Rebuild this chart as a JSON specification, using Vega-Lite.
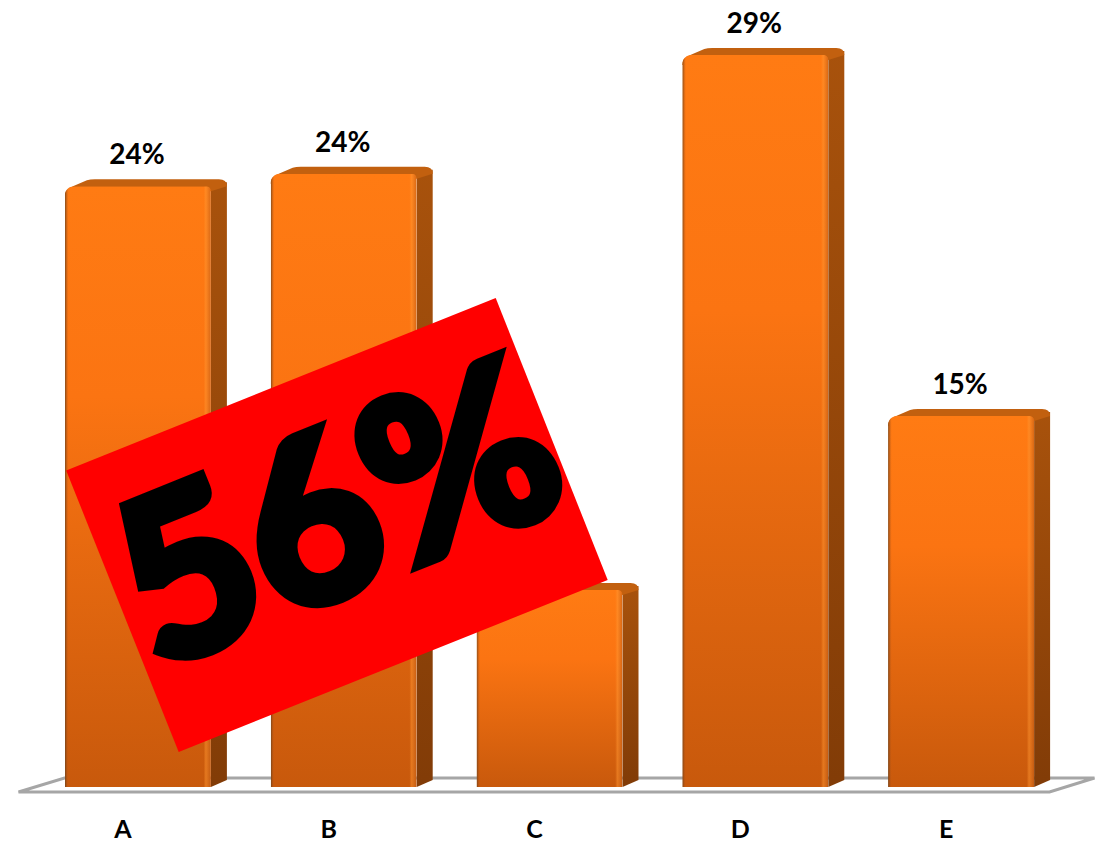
{
  "$schema": "https://vega.github.io/schema/vega-lite/v6.json",
  "autosize": {"type": "none"},
  "padding": {"left": 20, "top": 0, "right": 58, "bottom": 54},
  "width": 1029,
  "height": 787,
  "background": "white",
  "config": {"view": {"stroke": null}},
  "data": {"values": [
    {"category": "A", "share": 0.238},
    {"category": "B", "share": 0.243},
    {"category": "C", "share": 0.078},
    {"category": "D", "share": 0.29},
    {"category": "E", "share": 0.147}
  ]},
  "encoding": {
    "x": {
      "field": "category", "type": "nominal",
      "scale": {"type": "band", "paddingInner": 0, "paddingOuter": 0, "domain": ["A", "B", "C", "D", "E"]},
      "axis": {"title": null, "labelAngle": 0, "ticks": false, "domain": false, "labelPadding": 30, "labelFont": "Lato", "labelFontWeight": "bold", "labelFontSize": 25, "labelColor": "black"}
    },
    "y": {
      "field": "share", "type": "quantitative",
      "scale": {"domain": [0, 0.3118], "nice": false, "zero": false},
      "axis": null
    }
  },
  "layer": [
    {
      "description": "Floor plate under the columns",
      "data": {"values": [{"category": "C", "share": 0}]},
      "mark": {"type": "point", "filled": true, "opacity": 1, "size": 4, "clip": false,
        "shape": "M-516,5 L-470,-9 L560,-9 L515,5 Z",
        "fill": "white", "stroke": "#a6a6a6", "strokeWidth": 3}
    },
    {
      "description": "Right side face of each column",
      "mark": {"type": "bar", "width": 16, "xOffset": 96, "yOffset": -4, "y2Offset": -7,
        "fill": {"gradient": "linear", "x1": 0, "y1": 0, "x2": 0, "y2": 1,
          "stops": [{"offset": 0, "color": "#a8520c"}, {"offset": 1, "color": "#823c07"}]}},
      "encoding": {"y2": {"datum": 0}}
    },
    {
      "description": "Slanted foot of the side face",
      "transform": [{"calculate": "0", "as": "base"}],
      "mark": {"type": "point", "filled": true, "opacity": 1, "size": 4,
        "shape": "M88,0 L104,-7 L88,-7 Z", "fill": "#823c07", "strokeWidth": 0},
      "encoding": {"y": {"field": "base", "type": "quantitative"}}
    },
    {
      "description": "Top face of each column",
      "mark": {"type": "point", "filled": true, "opacity": 1, "size": 4,
        "shape": "M-58,10 Q-58,3 -50,0 L-36,-6 Q-33,-7 -28,-7 L96,-7 Q104,-7 104,0 L88,5 L-58,10 Z",
        "fill": "#c2600f", "strokeWidth": 0}
    },
    {
      "description": "Front face of each column",
      "mark": {"type": "bar", "width": 146, "xOffset": 15, "cornerRadiusTopLeft": 9, "cornerRadiusTopRight": 5,
        "fill": {"gradient": "linear", "x1": 0, "y1": 0, "x2": 0, "y2": 1,
          "stops": [{"offset": 0, "color": "#ff7b13"}, {"offset": 0.35, "color": "#fb7412"}, {"offset": 1, "color": "#c8590c"}]}}
    },
    {
      "description": "Bevelled left and right edges of the front face",
      "mark": {"type": "bar", "width": 146, "xOffset": 15, "cornerRadiusTopLeft": 9, "cornerRadiusTopRight": 5,
        "fill": {"gradient": "linear", "x1": 0, "y1": 0, "x2": 1, "y2": 0,
          "stops": [
            {"offset": 0, "color": "rgba(90,60,30,0.8)"},
            {"offset": 0.025, "color": "rgba(200,90,20,0)"},
            {"offset": 0.95, "color": "rgba(255,150,50,0)"},
            {"offset": 0.965, "color": "rgba(255,150,50,0.5)"},
            {"offset": 1, "color": "rgba(190,90,20,0.6)"}
          ]}}
    },
    {
      "description": "Percentage above each column",
      "mark": {"type": "text", "xOffset": 14, "yOffset": -22, "baseline": "alphabetic", "align": "center",
        "font": "Lato", "fontWeight": "bold", "fontSize": 28, "color": "black"},
      "encoding": {"text": {"field": "share", "type": "quantitative", "format": ".0%"}}
    },
    {
      "description": "Red callout panel",
      "data": {"values": [{"category": "B", "share": 0.104, "callout": "56%"}]},
      "mark": {"type": "point", "filled": true, "opacity": 1, "size": 4,
        "shape": "M167,-226.5 L279,55.5 L-150,227.5 L-262.5,-54 Z", "fill": "#ff0000", "strokeWidth": 0}
    },
    {
      "description": "Callout figure",
      "data": {"values": [{"category": "B", "share": 0.104, "callout": "56%"}]},
      "mark": {"type": "text", "xOffset": 38, "yOffset": 62, "angle": -22, "align": "center", "baseline": "alphabetic",
        "font": "Lato", "fontWeight": 900, "fontSize": 228,
        "fill": "black", "stroke": "black", "strokeWidth": 9},
      "encoding": {"text": {"field": "callout", "type": "nominal"}}
    }
  ]
}
